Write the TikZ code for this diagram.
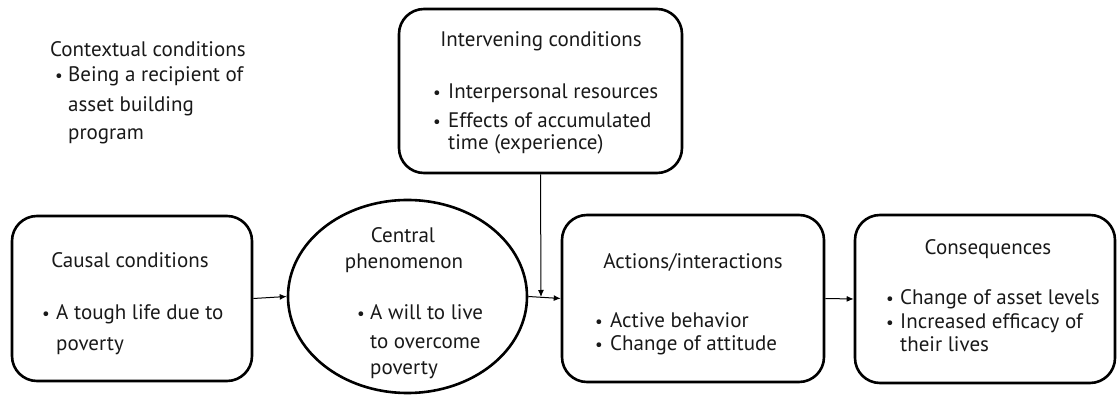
\documentclass[tikz,border=0pt]{standalone}
\usepackage{fontspec}
\setmainfont{PT Sans}
\usetikzlibrary{shapes.geometric,arrows.meta}
\begin{document}
\begin{tikzpicture}[x=1pt,y=-1pt,
  box/.style={draw,line width=2.6pt,rounded corners=25pt,inner sep=0pt},
  oval/.style={draw,ellipse,line width=2.6pt,inner sep=0pt},
  txt/.style={inner sep=0pt,text=black!90,font=\fontsize{21}{24}\selectfont},
  lft/.style={txt,anchor=base west},
  mid/.style={txt,anchor=base},
  bul/.style={txt,anchor=base west,font=\fontsize{17}{20}\selectfont},
  link/.style={line width=1pt,-{Latex[length=7pt,width=6pt]}}]
\useasboundingbox[fill=white] (0,0) rectangle (1117,395);

% contextual conditions (free text)
\node[lft] (ctxT) at (50,57) {Contextual conditions};
\node[bul] (ctxB) at (55,82) {•};
\node[lft] (ctx1) at (68,82) {Being a recipient of};
\node[lft] (ctx2) at (68,112) {asset building};
\node[lft] (ctx3) at (68,140) {program};

% boxes
\node[box,minimum width=283pt,minimum height=164pt] (inter) at (540.5,91) {};
\node[box,minimum width=240pt,minimum height=165pt] (causal) at (132,298.5) {};
\node[oval,minimum width=239pt,minimum height=193pt] (central) at (407.5,296.5) {};
\node[box,minimum width=262pt,minimum height=167pt] (action) at (693,298.5) {};
\node[box,minimum width=260pt,minimum height=168pt] (conseq) at (985,299) {};

% intervening conditions
\node[mid] (interT) at (541,47) {Intervening conditions};
\node[bul] (interB1) at (433,99) {•};
\node[lft] (inter1) at (448,99) {Interpersonal resources};
\node[bul] (interB2) at (433,128) {•};
\node[lft] (inter2) at (448,128) {Effects of accumulated};
\node[lft] (inter3) at (448,150) {time (experience)};

% causal conditions
\node[mid] (causalT) at (130,268) {Causal conditions};
\node[bul] (causalB) at (42,320) {•};
\node[lft] (causal1) at (56,320) {A tough life due to};
\node[lft] (causal2) at (56,351) {poverty};

% central phenomenon
\node[mid] (centralT1) at (403,243) {Central};
\node[mid] (centralT2) at (404,269) {phenomenon};
\node[bul] (centralB) at (357,320) {•};
\node[lft] (central1) at (370,320) {A will to live};
\node[lft] (central2) at (370,349) {to overcome};
\node[lft] (central3) at (370,375) {poverty};

% actions/interactions
\node[mid] (actionT) at (693,269) {Actions/interactions};
\node[bul] (actionB1) at (595,328) {•};
\node[lft] (action1) at (610,328) {Active behavior};
\node[bul] (actionB2) at (595,351) {•};
\node[lft] (action2) at (610,351) {Change of attitude};

% consequences
\node[mid] (conseqT) at (988,255) {Consequences};
\node[bul] (conseqB1) at (886,305) {•};
\node[lft] (conseq1) at (900,305) {Change of asset levels};
\node[bul] (conseqB2) at (886,329) {•};
\node[lft] (conseq2) at (900,329) {Increased efficacy of};
\node[lft] (conseq3) at (900,352) {their lives};

% connectors
\coordinate (join) at (541,297);
\draw[link] (causal.east) -- (central.west);
\draw[link] (central.east) -- (action.west);
\draw[link] (action.east) -- (conseq.west);
\draw[link] (inter.south) -- (join);
\end{tikzpicture}
\end{document}
